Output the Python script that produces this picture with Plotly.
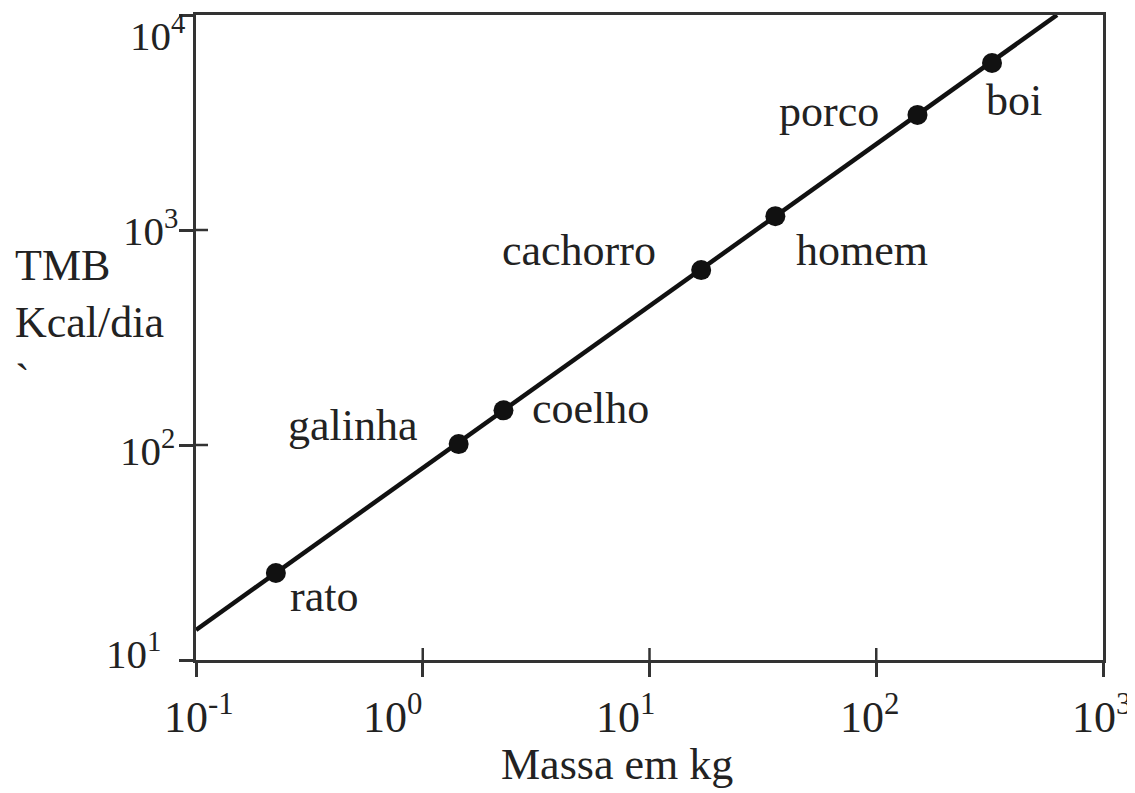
import numpy as np
import plotly.graph_objects as go

# Data
animals = ["rato", "galinha", "coelho", "cachorro", "homem", "porco", "boi"]
mass_kg = [0.225, 1.44, 2.27, 16.9, 35.9, 152, 324]
tmb_kcal = [25.4, 101, 145, 651, 1160, 3430, 5980]

# Regression line end points (mass, TMB)
line_mass = [0.1, 627]
line_tmb = [13.8, 10000]

x_tickvals = [0.1, 1, 10, 100, 1000]
x_ticktext = ["10<sup>-1</sup>", "10<sup>0</sup>", "10<sup>1</sup>", "10<sup>2</sup>", "10<sup>3</sup>"]
y_tickvals = [10, 100, 1000, 10000]
y_ticktext = ["10<sup>1</sup>", "10<sup>2</sup>", "10<sup>3</sup>", "10<sup>4</sup>"]

x_title = "Massa em kg"
y_title = "TMB<br>Kcal/dia<br>`"

# label placement (anchor, xshift, yshift) per animal
label_pos = {
    "rato": ("left", 12, -24),
    "galinha": ("right", -39, 19),
    "coelho": ("left", 27, 2),
    "cachorro": ("right", -43, 20),
    "homem": ("left", 19, -34),
    "porco": ("right", -36, 3),
    "boi": ("left", -8, -37),
}
# hand-placed tick label offsets (px) as in the original drawing
x_lab_shift = [3, -30, -24, -7, -2]
y_lab_xshift = [-33, -19, -16, -9]
y_lab_yshift = [9, -3, 2, -18]

FONT = "Liberation Serif, Times New Roman, serif"
FS = 44
FS_Y = 41
INK = "#111111"
AX = "#333333"
TXT = "#222222"

x_range = [-1.00001, 3.00001]
y_range = [0.99999, 4.00001]

OFF = 8  # page body margin
W, H = 1135 - OFF, 793 - OFF
L, R, T, B = 196 - OFF, 32, 15 - OFF, 133
plot_w = W - L - R
plot_h = H - T - B


def px_x(page_x):
    return (page_x - OFF - L) / plot_w


def px_y(page_y):
    return ((H - B) - (page_y - OFF)) / plot_h


fig = go.Figure()
fig.add_trace(go.Scatter(x=line_mass, y=line_tmb, mode="lines",
                         line=dict(color=INK, width=4.5), hoverinfo="skip",
                         showlegend=False))
fig.add_trace(go.Scatter(x=mass_kg, y=tmb_kcal, mode="markers",
                         marker=dict(color=INK, size=20), text=animals,
                         showlegend=False))

for a, m, t in zip(animals, mass_kg, tmb_kcal):
    anc, xs, ys = label_pos[a]
    fig.add_annotation(x=np.log10(m), y=np.log10(t), xref="x", yref="y",
                       text=a, showarrow=False, xanchor=anc, yanchor="middle",
                       xshift=xs, yshift=ys, font=dict(family=FONT, size=FS, color=TXT))

# tick labels
for v, txt, xs in zip(x_tickvals, x_ticktext, x_lab_shift):
    fig.add_annotation(x=np.log10(v), y=0, xref="x", yref="paper", text=txt,
                       showarrow=False, xanchor="center", yanchor="middle",
                       xshift=xs, yshift=-54, font=dict(family=FONT, size=FS, color=TXT))
for v, txt, xs, ys in zip(y_tickvals, y_ticktext, y_lab_xshift, y_lab_yshift):
    fig.add_annotation(x=0, y=np.log10(v), xref="paper", yref="y", text=txt,
                       showarrow=False, xanchor="right", yanchor="middle",
                       xshift=xs, yshift=ys, font=dict(family=FONT, size=FS_Y, color=TXT))

# inner halves of the crossing tick marks
inner_len = 12
for v in x_tickvals[1:-1]:
    px = (np.log10(v) - x_range[0]) / (x_range[1] - x_range[0])
    fig.add_shape(type="line", xref="paper", yref="paper", x0=px, x1=px,
                  y0=0, y1=inner_len / plot_h, line=dict(color=AX, width=2.5))
for v in y_tickvals[1:-1]:
    py = (np.log10(v) - y_range[0]) / (y_range[1] - y_range[0])
    fig.add_shape(type="line", xref="paper", yref="paper", y0=py, y1=py,
                  x0=0, x1=inner_len / plot_w, line=dict(color=AX, width=2.5))

fig.add_annotation(x=px_x(617), y=px_y(791), xref="paper", yref="paper",
                   text=x_title, showarrow=False, xanchor="center", yanchor="bottom",
                   font=dict(family=FONT, size=FS, color=TXT))
fig.add_annotation(x=px_x(13), y=px_y(322), xref="paper", yref="paper",
                   text=y_title, showarrow=False, xanchor="left", yanchor="middle", align="left",
                   font=dict(family=FONT, size=FS, color=TXT))

common = dict(type="log", showgrid=False, zeroline=False, showline=True, mirror=True,
              linecolor=AX, linewidth=2.5, ticks="outside", ticklen=14, tickwidth=2.5,
              tickcolor=AX, showticklabels=False, automargin=False)
fig.update_xaxes(range=x_range, tickvals=x_tickvals, **common)
fig.update_yaxes(range=y_range, tickvals=y_tickvals, **common)

fig.update_layout(width=W, height=H, margin=dict(l=L, r=R, t=T, b=B, autoexpand=False),
                  paper_bgcolor="white", plot_bgcolor="white", showlegend=False)

fig.write_html("out.html")
